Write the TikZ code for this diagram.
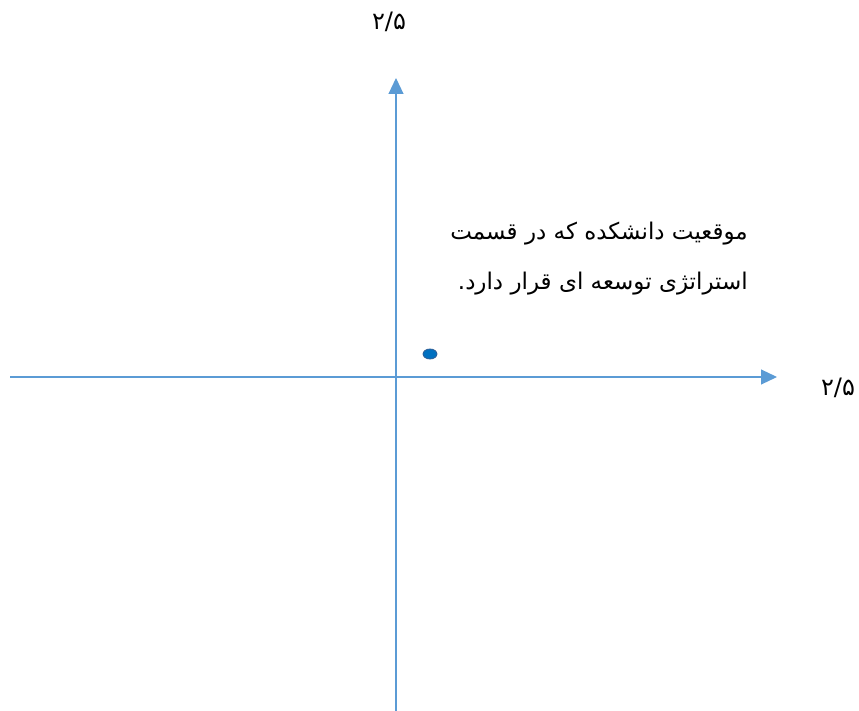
\documentclass[tikz,border=0pt]{standalone}
\usepackage{fontspec}
\newfontfamily\arabicfont[Script=Arabic]{DejaVu Sans}
\TeXXeTstate=1
\usepackage{tikz}
\usetikzlibrary{arrows.meta,positioning}
\definecolor{axisblue}{RGB}{91,155,213}
\definecolor{dotblue}{RGB}{0,112,192}
\definecolor{dotedge}{RGB}{46,94,150}
\tikzset{
  axis/.style={draw=axisblue,line width=1.1pt,-{Triangle[length=16pt,width=15pt]}},
  tick/.style={font=\arabicfont\fontsize{24}{28}\selectfont,inner sep=0pt},
  note/.style={font=\arabicfont\fontsize{23}{50}\selectfont,align=right,inner sep=0pt},
  spot/.style={ellipse,fill=dotblue,draw=dotedge,line width=0.8pt,minimum width=14pt,minimum height=10pt,inner sep=0pt},
}
\usetikzlibrary{shapes.geometric}
\begin{document}
\begin{tikzpicture}[x=1pt,y=-1pt]
  \useasboundingbox (0,0) rectangle (859,711);
  \coordinate (xl) at (10,377);
  \coordinate (xr) at (777,377);
  \coordinate (yb) at (396,711);
  \coordinate (yt) at (396,78);
  \draw[axis] (xl) -- (xr);
  \draw[axis] (yb) -- (yt);
  \node[tick] (ymax) at (389,22) {۲/۵};
  \node[tick] (xmax) at (838,388) {۲/۵};
  \node[spot] (pos) at (430,354) {};
  \node[note,anchor=north east] (txt) at (748,222) {\beginR موقعیت دانشکده که در قسمت\endR\\\beginR استراتژی توسعه ای قرار دارد.\endR};
\end{tikzpicture}
\end{document}
